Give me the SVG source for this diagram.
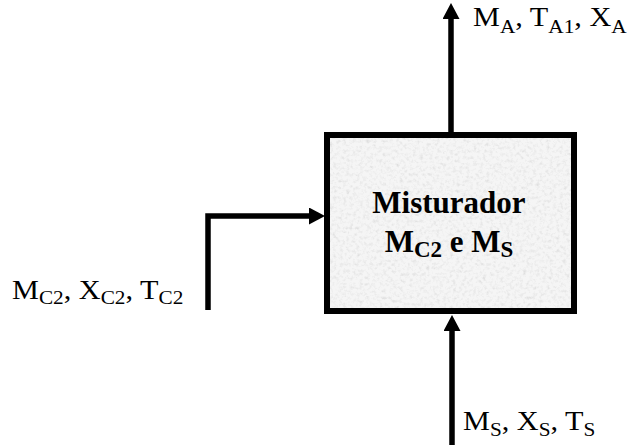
<svg xmlns="http://www.w3.org/2000/svg" width="636" height="445" viewBox="0 0 636 445">
  <defs>
    <style>
      .lbl { font-family: "Liberation Serif", "Times New Roman", serif; font-size: 27px; fill: #000; }
      .sub { font-size: 19px; }
      .box-txt { font-family: "Liberation Serif", "Times New Roman", serif; font-weight: bold; font-size: 31px; fill: #000; text-anchor: middle; }
      .box-sub { font-size: 23px; }
      .conn { fill: none; stroke: #000; stroke-width: 5.5; stroke-linecap: butt; stroke-linejoin: miter; }
    </style>
    <marker id="arrow" viewBox="0 0 16 17" refX="0" refY="8.5" markerWidth="16" markerHeight="17" markerUnits="userSpaceOnUse" orient="auto">
      <path d="M0,0 L16,8.5 L0,17 z" fill="#000"/>
    </marker>
    <filter id="granite" x="0" y="0" width="100%" height="100%">
      <feTurbulence type="fractalNoise" baseFrequency="0.3" numOctaves="3" seed="4" result="noise"/>
      <feColorMatrix in="noise" type="matrix" values="0 0 0 0 0.6  0 0 0 0 0.6  0 0 0 0 0.6  -0.6 -0.6 -0.6 0 0.95" result="speck"/>
      <feComposite in="speck" in2="SourceGraphic" operator="in" result="clip"/>
      <feMerge>
        <feMergeNode in="SourceGraphic"/>
        <feMergeNode in="clip"/>
      </feMerge>
    </filter>
  </defs>

  <g id="mixer">
    <rect x="327" y="135" width="247" height="176" fill="#f5f5f5" filter="url(#granite)"/>
    <rect x="327" y="135" width="247" height="176" fill="none" stroke="#000" stroke-width="6"/>
    <text class="box-txt" x="449" y="213">Misturador</text>
    <text class="box-txt" x="449" y="252">M<tspan class="box-sub" dy="5">C2</tspan><tspan dy="-5"> e M</tspan><tspan class="box-sub" dy="5">S</tspan></text>
  </g>

  <g id="connectors">
    <path class="conn" d="M451,132 V19" marker-end="url(#arrow)"/>
    <path class="conn" d="M208,310 V216 H309" marker-end="url(#arrow)"/>
    <path class="conn" d="M452,445 V331" marker-end="url(#arrow)"/>
  </g>

  <g id="label-out">
    <text class="lbl" transform="translate(473,26) scale(1.12,1)">M<tspan class="sub" dy="7">A</tspan><tspan dy="-7">, T</tspan><tspan class="sub" dy="7">A1</tspan><tspan dy="-7">, X</tspan><tspan class="sub" dy="7">A</tspan></text>
  </g>

  <g id="label-c2">
    <text class="lbl" transform="translate(12,299) scale(1.12,1)">M<tspan class="sub" dy="5">C2</tspan><tspan dy="-5">, X</tspan><tspan class="sub" dy="5">C2</tspan><tspan dy="-5">, T</tspan><tspan class="sub" dy="5">C2</tspan></text>
  </g>

  <g id="label-s">
    <text class="lbl" transform="translate(463,430) scale(1.12,1)">M<tspan class="sub" dy="6">S</tspan><tspan dy="-6">, X</tspan><tspan class="sub" dy="6">S</tspan><tspan dy="-6">, T</tspan><tspan class="sub" dy="6">S</tspan></text>
  </g>
</svg>
